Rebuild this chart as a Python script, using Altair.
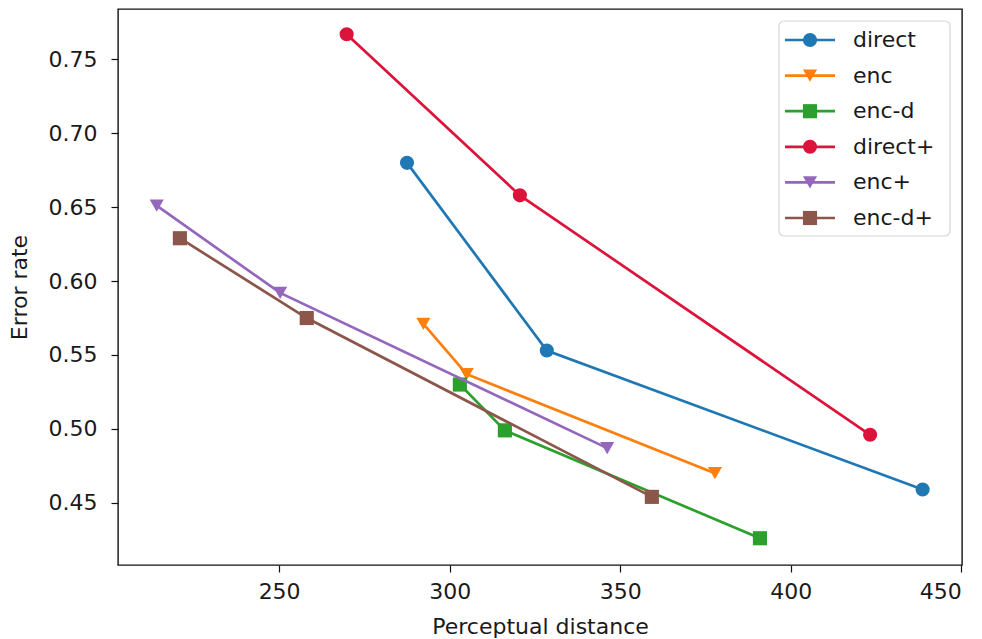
import altair as alt
import pandas as pd

series = ["direct", "enc", "enc-d", "direct+", "enc+", "enc-d+"]
colors = ["#1f77b4", "#ff7f0e", "#2ca02c", "#dc143c", "#9467bd", "#8c564b"]
shapes = ["circle", "triangle-down", "square", "circle", "triangle-down", "square"]

direct_x = [287.5, 328.5, 438.7]
direct_y = [0.680, 0.553, 0.459]
enc_x = [292.3, 305.0, 377.8]
enc_y = [0.571, 0.537, 0.470]
encd_x = [303.0, 316.2, 391.0]
encd_y = [0.530, 0.499, 0.426]
directp_x = [269.8, 320.6, 423.3]
directp_y = [0.767, 0.658, 0.496]
encp_x = [214.1, 250.3, 346.2]
encp_y = [0.651, 0.592, 0.487]
encdp_x = [220.9, 258.1, 359.3]
encdp_y = [0.629, 0.575, 0.454]

x_ticks = [250, 300, 350, 400, 450]
y_ticks = [0.45, 0.50, 0.55, 0.60, 0.65, 0.70, 0.75]

xs = [direct_x, enc_x, encd_x, directp_x, encp_x, encdp_x]
ys = [direct_y, enc_y, encd_y, directp_y, encp_y, encdp_y]

rows = []
for s, xv, yv in zip(series, xs, ys):
    for i, (a, b) in enumerate(zip(xv, yv)):
        rows.append({"series": s, "dist": a, "err": b, "i": i})
df = pd.DataFrame(rows)

FONT = "DejaVu Sans"
color_scale = alt.Scale(domain=series, range=colors)
shape_scale = alt.Scale(domain=series, range=shapes)

xenc = alt.X("dist:Q", scale=alt.Scale(domain=[202.75, 450.25], nice=False, zero=False),
             axis=alt.Axis(title="Perceptual distance", values=x_ticks, format="d"))
yenc = alt.Y("err:Q", scale=alt.Scale(domain=[0.4079, 0.7841], nice=False, zero=False),
             axis=alt.Axis(title="Error rate", values=y_ticks, format=".2f"))

MSIZE = 200

layers = []
for s in series:
    base = alt.Chart(df).transform_filter(alt.datum.series == s)
    line = base.mark_line(strokeWidth=2.7).encode(
        x=xenc, y=yenc, order="i:O",
        color=alt.Color("series:N", scale=color_scale, legend=None))
    pts = base.mark_point(filled=True, size=MSIZE, opacity=1).encode(
        x=xenc, y=yenc,
        color=alt.Color("series:N", scale=color_scale, legend=None),
        shape=alt.Shape("series:N", scale=shape_scale, legend=None))
    layers += [line, pts]
main = alt.layer(*layers)

leg_df = pd.DataFrame({"series": series})
ly = alt.Y("series:N", scale=alt.Scale(type="point", domain=series, range=[31, 209], padding=0), axis=None)
box = alt.Chart(pd.DataFrame({"a": [0]})).mark_rect(
    fill="white", fillOpacity=0.8, stroke="#d6d6d6", strokeWidth=1.2, cornerRadius=5
).encode(x=alt.value(661), x2=alt.value(832), y=alt.value(12), y2=alt.value(227))
lrule = alt.Chart(leg_df).mark_rule(strokeWidth=2.7).encode(
    y=ly, x=alt.value(667), x2=alt.value(717),
    color=alt.Color("series:N", scale=color_scale, legend=None))
lpt = alt.Chart(leg_df).mark_point(filled=True, size=MSIZE, opacity=1).encode(
    y=ly, x=alt.value(692),
    color=alt.Color("series:N", scale=color_scale, legend=None),
    shape=alt.Shape("series:N", scale=shape_scale, legend=None))
ltxt = alt.Chart(leg_df).mark_text(align="left", baseline="middle", font=FONT, fontSize=22, color="#1a1a1a").encode(
    y=ly, x=alt.value(735), text="series:N")
legend = alt.layer(box, lrule, lpt, ltxt)

chart = alt.layer(main, legend).resolve_scale(y="independent").properties(
    width=844, height=556,
    autosize=alt.AutoSizeParams(type="none"),
    padding={"left": 110, "top": 1, "right": 12, "bottom": 74},
    background="white",
).configure_view(
    stroke="#111111", strokeWidth=1.4
).configure_axis(
    domain=False, grid=False,
    tickColor="#111111", tickSize=7, tickWidth=1.2,
    labelFont=FONT, labelFontSize=22, labelColor="#1a1a1a",
    titleFont=FONT, titleFontSize=22, titleFontWeight="normal", titleColor="#1a1a1a",
).configure_axisX(
    labelPadding=9, titlePadding=14
).configure_axisY(
    labelPadding=14, titlePadding=17
)

chart.save("out.html", embed_options={"renderer": "svg", "actions": False})
